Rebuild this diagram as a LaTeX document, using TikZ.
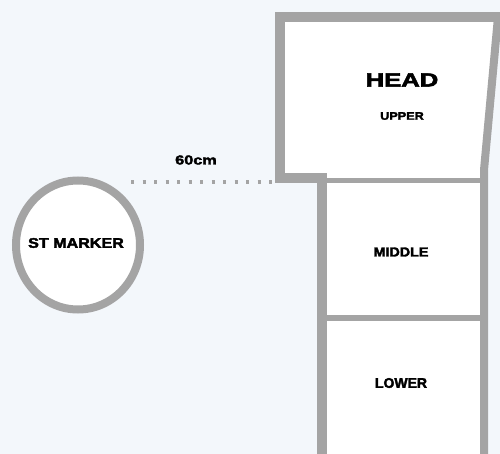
\documentclass[tikz,border=0pt]{standalone}
\usepackage{fontspec}
\setsansfont{Liberation Sans}
\newfontfamily\heavyfont[FakeBold=2.5]{Liberation Sans}
\usetikzlibrary{positioning,shapes.geometric}
\definecolor{bgblue}{HTML}{F3F7FB}
\definecolor{wallgray}{HTML}{A4A4A4}
\tikzstyle{wall}=[draw=wallgray,line cap=rect]
\tikzstyle{label}=[font=\heavyfont\bfseries,text=black,inner sep=0pt]
\tikzstyle{gap}=[draw=wallgray,line width=3.5pt,dash pattern=on 3pt off 8.5pt]
\newcommand{\wide}[2]{\scalebox{#1}[1]{#2}}

\begin{document}
\begin{tikzpicture}[x=1pt,y=-1pt]
  \fill[bgblue] (0,0) rectangle (500,454);
  \useasboundingbox (0,0) rectangle (500,454);

  % rooms
  \fill[white] (280,17) -- (498,17) -- (484,170) -- (484,454)
    -- (322,454) -- (322,178) -- (280,178) -- cycle;
  \draw[wall, line width=10pt] (322,460) -- (322,178) -- (280,178)
    -- (280,17) -- (505,17);
  \draw[wall, line width=8pt] (498,17) -- (484,170) -- (484,460);
  \draw[wall, line width=5pt] (322,181) -- (484,181);
  \draw[wall, line width=6pt] (322,318) -- (484,318);

  \node[label, font=\heavyfont\bfseries\fontsize{19}{19}\selectfont]
    (head) at (402,80) {\wide{1.35}{HEAD}};
  \node[label, font=\heavyfont\bfseries\fontsize{11}{11}\selectfont]
    (upper) at (402,116) {\wide{1.15}{UPPER}};
  \node[label, font=\heavyfont\bfseries\fontsize{13}{13}\selectfont]
    (middle) at (401,252) {\wide{1.1}{MIDDLE}};
  \node[label, font=\heavyfont\bfseries\fontsize{14}{14}\selectfont]
    (lower) at (401,383) {\wide{1.0}{LOWER}};

  % marker
  \node[ellipse, draw=wallgray, line width=8pt, fill=white,
    minimum width=124pt, minimum height=129pt, inner sep=0pt]
    (marker) at (78,245) {};
  \node[label, font=\heavyfont\bfseries\fontsize{14}{14}\selectfont]
    (mtext) at (76,243) {\wide{1.15}{ST MARKER}};

  \coordinate (gapL) at (131,182);
  \coordinate (gapR) at (274,182);
  \draw[gap] (gapL) -- (gapR);
  \node[label, font=\heavyfont\bfseries\fontsize{13}{13}\selectfont]
    (dist) at (196,160) {\wide{1.25}{60cm}};
\end{tikzpicture}
\end{document}
